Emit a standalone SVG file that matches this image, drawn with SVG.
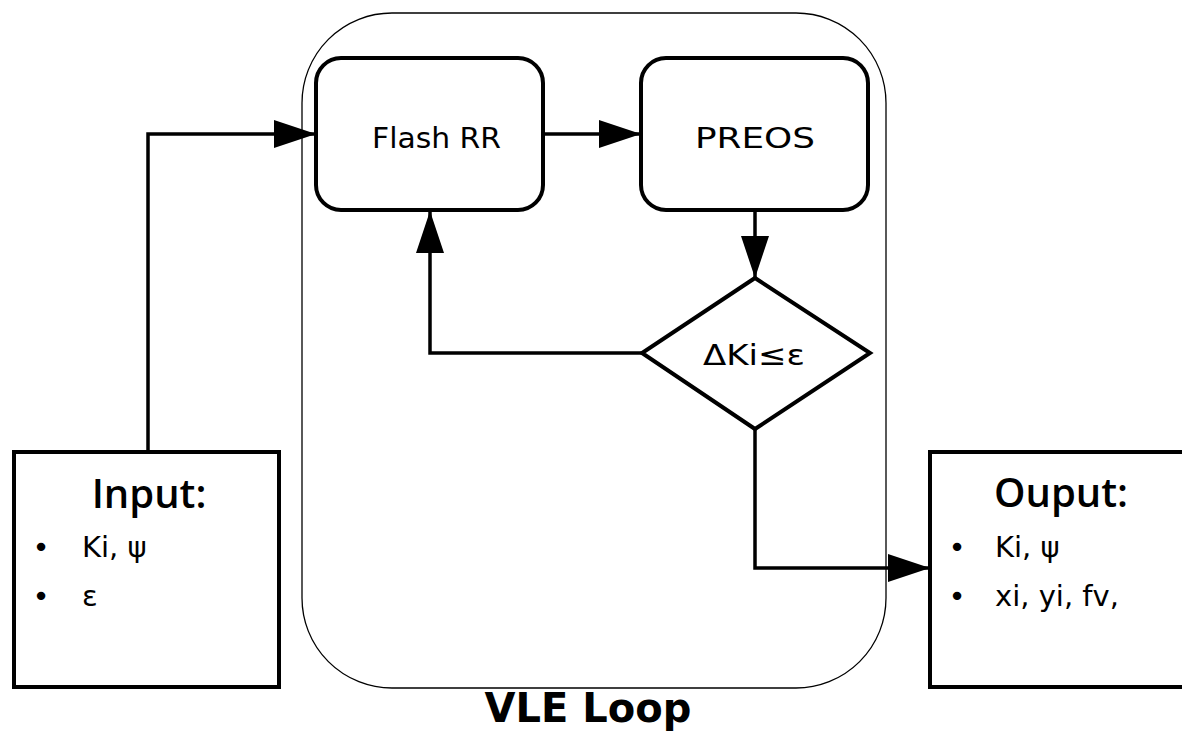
<svg xmlns="http://www.w3.org/2000/svg" width="1182" height="731" viewBox="0 0 1182 731">
<style>
.box{fill:#fff;stroke:#000;stroke-width:4}
.conn{fill:none;stroke:#000;stroke-width:3.5}
.t{font-family:"DejaVu Sans","Liberation Sans",sans-serif;fill:#000}
.h{font-family:"Open Sans","DejaVu Sans",sans-serif;font-weight:600;font-size:40px;fill:#000;text-anchor:middle}
.b{font-size:29px}
</style>
<defs>
<marker id="ah" markerUnits="userSpaceOnUse" markerWidth="42" markerHeight="28" refX="42" refY="14" orient="auto">
<path d="M0,0 L42,14 L0,28 z" fill="#000"/>
</marker>
</defs>
<rect width="1182" height="731" fill="#fff"/>
<g id="vle-loop">
<rect x="302" y="13" width="584" height="675" rx="90" ry="90" fill="none" stroke="#000" stroke-width="1.3"/>
<text class="t" x="588" y="722" font-size="40" font-weight="bold" text-anchor="middle">VLE Loop</text>
</g>
<g id="connectors">
<polyline class="conn" points="148,452 148,134 316,134" marker-end="url(#ah)"/>
<line class="conn" x1="543" y1="134" x2="641" y2="134" marker-end="url(#ah)"/>
<line class="conn" x1="755" y1="210" x2="755" y2="278" marker-end="url(#ah)"/>
<polyline class="conn" points="642,353 430,353 430,211" marker-end="url(#ah)"/>
<polyline class="conn" points="755,429 755,568 930,568" marker-end="url(#ah)"/>
</g>
<g id="flash-rr">
<rect class="box" x="316" y="58" width="227" height="152" rx="25" ry="25"/>
<text class="t" x="372" y="148" font-size="29" textLength="129" lengthAdjust="spacingAndGlyphs">Flash RR</text>
</g>
<g id="preos">
<rect class="box" x="641" y="58" width="227" height="152" rx="25" ry="25"/>
<text class="t" x="695" y="148" font-size="29" textLength="120" lengthAdjust="spacingAndGlyphs">PREOS</text>
</g>
<g id="decision">
<polygon class="box" points="755,278 870,353 755,429 642,353"/>
<text class="t" x="703" y="365" font-size="29" textLength="102" lengthAdjust="spacingAndGlyphs">ΔKi≤ε</text>
</g>
<g id="input">
<rect class="box" x="14" y="452" width="265" height="235"/>
<text class="h" x="149" y="508">Input:</text>
<text class="t b" x="41" y="557" text-anchor="middle">•</text>
<text class="t b" x="82" y="557">Ki, ψ</text>
<text class="t b" x="41" y="606" text-anchor="middle">•</text>
<text class="t b" x="82" y="606">ε</text>
</g>
<g id="output">
<rect class="box" x="930" y="452" width="260" height="235"/>
<text class="h" x="1061" y="507">Ouput:</text>
<text class="t b" x="957" y="557" text-anchor="middle">•</text>
<text class="t b" x="995" y="557">Ki, ψ</text>
<text class="t b" x="957" y="606" text-anchor="middle">•</text>
<text class="t b" x="995" y="606">xi, yi, fv,</text>
</g>
</svg>
